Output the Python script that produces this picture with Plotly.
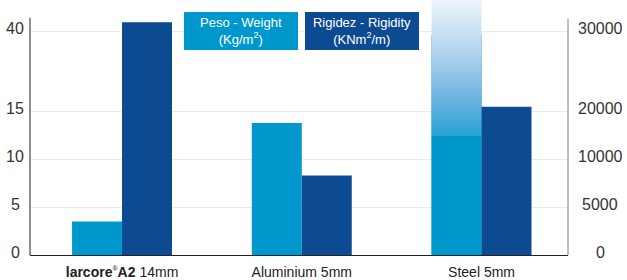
import numpy as np
import plotly.graph_objects as go

# ---------------- data ----------------
categories = ["larcore®A2 14mm", "Aluminium 5mm", "Steel 5mm"]
category_labels = [
    "<b>larcore</b><sup><span style='font-size:7px'>®</span></sup><b>A2</b> 14mm",
    "Aluminium 5mm",
    "Steel 5mm",
]
weight_kg_m2 = [3.5, 13.8, 39.0]          # Peso - Weight (Kg/m2)
rigidity_knm2_m = [31100, 8300, 20600]    # Rigidez - Rigidity (KNm2/m)

left_tick_values = [0, 5, 10, 15, 40]
right_tick_values = [0, 5000, 10000, 20000, 30000]
left_tick_labels = ["0", "5", "10", "15", "40"]
right_tick_labels = ["0", "5000", "10000", "20000", "30000"]

legend_weight = "Peso - Weight<br>(Kg/m<sup>2</sup>)"
legend_rigidity = "Rigidez - Rigidity<br>(KNm<sup>2</sup>/m)"

# ---------------- style ----------------
W, H = 627, 280
ML, MR, MT, MB = 30, 59, 0, 23
PW, PH = W - ML - MR, H - MT - MB
LIGHT = "#0098CC"
DARK = "#0C4A91"
GRID = "#ebebeb"
TEXT = "#222222"
FONT = "Liberation Sans, Arial, sans-serif"
STEP_PX = 48.2
TICK_POS = [0, 1, 2, 3, 4.68]          # broken (illustrative) scale positions
Y_TOP = PH / STEP_PX
BAR_W = 0.278
X_RANGE = [-0.512, 2.481]
FADE_START = 2.5                        # where the off-scale bar starts fading
AXIS_TOP_PX = 18


def to_pos(values, ticks):
    v = np.asarray(values, dtype=float)
    t = np.asarray(ticks, dtype=float)
    p = np.asarray(TICK_POS, dtype=float)
    out = np.interp(v, t, p)
    slope = (p[-1] - p[-2]) / (t[-1] - t[-2])
    over = v > t[-1]
    out[over] = p[-1] + (v[over] - t[-1]) * slope
    return out


def px_x(px):
    return (px - ML) / PW


def px_y(py):
    return (H - MB - py) / PH


xs = np.arange(len(categories))
w_pos = to_pos(weight_kg_m2, left_tick_values)
r_pos = to_pos(rigidity_knm2_m, right_tick_values)

# off-scale bars (beyond the drawn scale) get faded
off_scale = [i for i in range(len(categories)) if weight_kg_m2[i] > 30]
w_colors = [LIGHT for _ in categories]

fig = go.Figure()
fig.add_trace(go.Bar(
    x=xs, y=w_pos, width=BAR_W, offset=-BAR_W,
    marker=dict(color=w_colors, line=dict(width=0)),
    name="Peso - Weight", customdata=weight_kg_m2,
))
fig.add_trace(go.Bar(
    x=xs, y=r_pos, width=BAR_W, offset=0, yaxis="y2",
    marker=dict(color=DARK, line=dict(width=0)),
    name="Rigidez - Rigidity", customdata=rigidity_knm2_m,
))

for i in off_scale:
    x0, x1 = xs[i] - BAR_W, xs[i]
    f = FADE_START / Y_TOP
    fig.add_trace(go.Scatter(
        x=[x0, x1, x1, x0, x0], y=[0, 0, Y_TOP, Y_TOP, 0],
        mode="lines", line=dict(width=0), fill="toself",
        fillcolor=LIGHT,
        fillgradient=dict(
            type="vertical",
            colorscale=[[0, LIGHT], [f, LIGHT], [f + 0.001, "#26a2d4"],
                        [0.62, "#6fb4e0"], [0.8, "#b3d5ef"], [1, "#ecf4fc"]],
            start=0, stop=Y_TOP,
        ),
        hoverinfo="skip", showlegend=False,
    ))

fig.update_layout(
    width=W, height=H,
    margin=dict(l=ML, r=MR, t=MT, b=MB, pad=0),
    paper_bgcolor="white", plot_bgcolor="white",
    barmode="overlay", showlegend=False,
    font=dict(family=FONT, color=TEXT, size=14),
    xaxis=dict(
        range=X_RANGE, tickvals=list(xs), ticktext=category_labels,
        showgrid=False, zeroline=False, showline=True, linecolor="#222",
        linewidth=1, ticks="", ticklabelstandoff=4,
        tickfont=dict(size=14, color=TEXT, family=FONT),
    ),
    yaxis=dict(
        range=[0, Y_TOP], tickvals=TICK_POS, showticklabels=False,
        showgrid=True, gridcolor=GRID, gridwidth=1, zeroline=False,
        showline=False, ticks="",
    ),
    yaxis2=dict(
        range=[0, Y_TOP], overlaying="y", side="right", tickvals=TICK_POS,
        showticklabels=False, showgrid=False, zeroline=False,
        showline=False, ticks="",
    ),
)

# vertical axis lines (stopping below top, as in reference)
fig.add_shape(type="line", xref="paper", yref="paper", x0=0, x1=0,
              y0=0, y1=px_y(AXIS_TOP_PX), line=dict(color="#222", width=1))
fig.add_shape(type="line", xref="paper", yref="paper", x0=1, x1=1,
              y0=0, y1=px_y(AXIS_TOP_PX + 1), line=dict(color="#7a7a7a", width=1))

# centered tick labels on both sides
for p, lab in zip(TICK_POS, left_tick_labels):
    fig.add_annotation(x=px_x(15), xref="paper", y=p, yref="y", text=lab,
                       showarrow=False, xanchor="center", yanchor="middle",
                       yshift=3, font=dict(size=16, color="#333", family=FONT))
for p, lab in zip(TICK_POS, right_tick_labels):
    fig.add_annotation(x=px_x(600), xref="paper", y=p, yref="y", text=lab,
                       showarrow=False, xanchor="center", yanchor="middle",
                       yshift=3, font=dict(size=16, color="#333", family=FONT))

# legend boxes
for cx, txt, col in [(241, legend_weight, LIGHT), (362, legend_rigidity, DARK)]:
    fig.add_annotation(x=px_x(cx), xref="paper", y=px_y(31), yref="paper",
                       text=txt, showarrow=False, xanchor="center",
                       yanchor="middle", width=114, height=38,
                       bgcolor=col, borderpad=0, borderwidth=0,
                       font=dict(size=13, color="white", family=FONT),
                       align="center", valign="middle")

fig.write_html("out.html", config={"displayModeBar": False},
               post_script="document.body.style.margin='0';")
